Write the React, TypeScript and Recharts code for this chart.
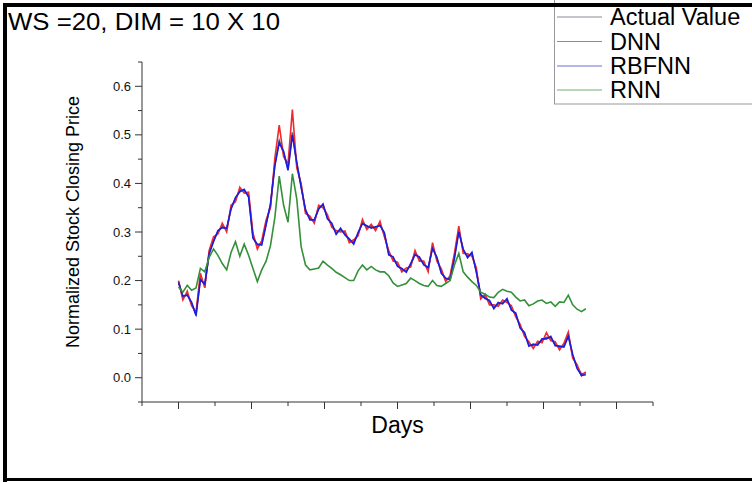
import React from 'react';
import { LineChart, Line, XAxis, YAxis } from 'recharts';

const days = [
  0, 6, 12, 18, 24, 30, 36, 42, 48, 54,
  60, 66, 72, 78, 84, 90, 96, 102, 108, 114,
  120, 126, 132, 138, 144, 150, 156, 162, 168, 174,
  180, 186, 192, 198, 204, 210, 216, 222, 228, 234,
  240, 246, 252, 258, 264, 270, 276, 282, 288, 294,
  300, 306, 312, 318, 324, 330, 336, 342, 348, 354,
  360, 366, 372, 378, 384, 390, 396, 402, 408, 414,
  420, 426, 432, 438, 444, 450, 456, 462, 468, 474,
  480, 486, 492, 498, 504, 510, 516, 522, 528, 534,
  540, 546, 552, 558,
];

const actualValue = [
  0.198, 0.165, 0.172, 0.152, 0.130, 0.205, 0.190, 0.258, 0.283, 0.300,
  0.312, 0.305, 0.350, 0.368, 0.386, 0.385, 0.375, 0.290, 0.272, 0.276,
  0.318, 0.355, 0.440, 0.488, 0.462, 0.430, 0.505, 0.440, 0.395, 0.343,
  0.328, 0.322, 0.350, 0.355, 0.330, 0.315, 0.298, 0.305, 0.297, 0.283,
  0.278, 0.296, 0.320, 0.310, 0.311, 0.308, 0.316, 0.296, 0.256, 0.246,
  0.232, 0.222, 0.220, 0.232, 0.256, 0.246, 0.235, 0.224, 0.270, 0.245,
  0.218, 0.202, 0.205, 0.250, 0.305, 0.262, 0.250, 0.255, 0.220, 0.168,
  0.166, 0.156, 0.145, 0.152, 0.155, 0.160, 0.142, 0.130, 0.105, 0.090,
  0.068, 0.066, 0.070, 0.077, 0.083, 0.082, 0.069, 0.062, 0.066, 0.088,
  0.045, 0.022, 0.008, 0.009,
];

const dnn = [
  0.200, 0.160, 0.178, 0.148, 0.135, 0.215, 0.185, 0.262, 0.290, 0.296,
  0.318, 0.300, 0.355, 0.362, 0.392, 0.380, 0.382, 0.298, 0.265, 0.282,
  0.325, 0.350, 0.452, 0.520, 0.455, 0.440, 0.552, 0.432, 0.400, 0.338,
  0.333, 0.318, 0.355, 0.350, 0.336, 0.310, 0.303, 0.300, 0.302, 0.278,
  0.284, 0.292, 0.326, 0.305, 0.316, 0.303, 0.322, 0.290, 0.262, 0.240,
  0.238, 0.218, 0.226, 0.228, 0.262, 0.240, 0.240, 0.218, 0.278, 0.240,
  0.224, 0.198, 0.210, 0.256, 0.312, 0.256, 0.255, 0.250, 0.226, 0.162,
  0.172, 0.150, 0.150, 0.147, 0.160, 0.155, 0.148, 0.125, 0.110, 0.085,
  0.074, 0.060, 0.075, 0.072, 0.093, 0.076, 0.074, 0.057, 0.071, 0.094,
  0.040, 0.027, 0.004, 0.012,
];

const rbfnn = [
  0.196, 0.168, 0.170, 0.155, 0.128, 0.202, 0.193, 0.255, 0.280, 0.303,
  0.309, 0.308, 0.347, 0.371, 0.383, 0.388, 0.372, 0.287, 0.275, 0.273,
  0.315, 0.358, 0.436, 0.484, 0.466, 0.427, 0.500, 0.444, 0.392, 0.346,
  0.325, 0.325, 0.347, 0.358, 0.327, 0.318, 0.295, 0.308, 0.294, 0.286,
  0.275, 0.299, 0.317, 0.313, 0.308, 0.311, 0.313, 0.299, 0.253, 0.249,
  0.229, 0.225, 0.217, 0.235, 0.253, 0.249, 0.232, 0.227, 0.266, 0.248,
  0.215, 0.205, 0.202, 0.246, 0.300, 0.265, 0.247, 0.258, 0.217, 0.171,
  0.163, 0.159, 0.142, 0.155, 0.152, 0.163, 0.139, 0.133, 0.102, 0.093,
  0.065, 0.069, 0.067, 0.080, 0.080, 0.085, 0.066, 0.065, 0.063, 0.085,
  0.048, 0.019, 0.005, 0.006,
];

const rnn = [
  0.187, 0.176, 0.190, 0.180, 0.185, 0.225, 0.218, 0.248, 0.265, 0.252,
  0.235, 0.222, 0.258, 0.280, 0.250, 0.275, 0.252, 0.225, 0.198, 0.222,
  0.240, 0.272, 0.330, 0.415, 0.355, 0.320, 0.420, 0.368, 0.270, 0.232,
  0.222, 0.224, 0.226, 0.240, 0.232, 0.225, 0.217, 0.212, 0.206, 0.200,
  0.200, 0.220, 0.232, 0.222, 0.229, 0.222, 0.218, 0.218, 0.210, 0.195,
  0.188, 0.191, 0.194, 0.205, 0.200, 0.194, 0.190, 0.188, 0.200, 0.190,
  0.188, 0.194, 0.200, 0.232, 0.256, 0.218, 0.207, 0.198, 0.190, 0.176,
  0.172, 0.166, 0.165, 0.176, 0.182, 0.178, 0.176, 0.166, 0.158, 0.160,
  0.148, 0.152, 0.158, 0.160, 0.153, 0.156, 0.147, 0.156, 0.155, 0.170,
  0.150, 0.141, 0.136, 0.142,
];

const xTicks = [-50, 0, 50, 100, 150, 200, 250, 300, 350, 400, 450, 500, 550, 600, 650];
const yTicks = [-0.05, 0, 0.05, 0.1, 0.15, 0.2, 0.25, 0.3, 0.35, 0.4, 0.45, 0.5, 0.55, 0.6, 0.65];

const seriesKeys = ['actual', 'dnn', 'rbfnn', 'rnn'];
const seriesNames = ['Actual Value', 'DNN', 'RBFNN', 'RNN'];
const seriesColors = ['#5c5c70', '#ee2a2a', '#1c1ce0', '#35903a'];
const legendColors = ['#8a8a96', '#f06070', '#7070d0', '#70b078'];

const data = days.map((day, i) => ({
  day,
  actual: actualValue[i],
  dnn: dnn[i],
  rbfnn: rbfnn[i],
  rnn: rnn[i],
}));

const FONT = '"Liberation Sans", Arial, Helvetica, sans-serif';
const AXIS = '#333';

const XTick = (props: any) => {
  const { x, y, payload } = props;
  const v = payload.value;
  const major = v >= 0 && v <= 600 && v % 100 === 0;
  return <line x1={x} x2={x} y1={y} y2={y + (major ? 7 : 4)} stroke={AXIS} />;
};

const YTick = (props: any) => {
  const { x, y, payload } = props;
  const k = Math.round(payload.value * 100);
  const major = k >= 0 && k <= 60 && k % 10 === 0;
  return (
    <g>
      <line x1={x} x2={x - (major ? 7 : 4)} y1={y} y2={y} stroke={AXIS} />
      {major && (
        <text x={x - 11} y={y + 4.5} textAnchor="end" fontSize={13} fontFamily={FONT} fill="#111">
          {(k / 100).toFixed(1)}
        </text>
      )}
    </g>
  );
};

// legend rows (centre of each entry)
const legendY = [17, 41.5, 66, 90];

export default function App() {
  return (
    <div style={{ position: 'relative', width: 752, height: 482, background: '#fff', overflow: 'hidden' }}>
      <style>{'body{margin:0}'}</style>
      <LineChart width={752} height={482} data={data} margin={{ top: 62, right: 99, bottom: 0, left: 0 }}>
        <XAxis
          type="number"
          dataKey="day"
          domain={[-50, 650]}
          ticks={xTicks}
          interval={0}
          height={80}
          tickSize={0}
          tickMargin={0}
          tickLine={false}
          tick={<XTick />}
          axisLine={{ stroke: AXIS }}
          allowDataOverflow
        />
        <YAxis
          type="number"
          domain={[-0.05, 0.65]}
          ticks={yTicks}
          interval={0}
          width={142}
          tickSize={0}
          tickMargin={0}
          tickLine={false}
          tick={<YTick />}
          axisLine={{ stroke: AXIS }}
          allowDataOverflow
        />
        {seriesKeys.map((k, i) => (
          <Line
            key={k}
            type="linear"
            dataKey={k}
            name={seriesNames[i]}
            stroke={seriesColors[i]}
            strokeWidth={1.6}
            dot={false}
            isAnimationActive={false}
          />
        ))}
      </LineChart>
      <svg width={752} height={482} style={{ position: 'absolute', left: 0, top: 0, pointerEvents: 'none' }}>
        <text x={8} y={29.5} fontSize={23} fontFamily={FONT} fill="#000" textLength={272} lengthAdjust="spacingAndGlyphs">
          WS =20, DIM = 10 X 10
        </text>
        <text
          x={79}
          y={222}
          transform="rotate(-90 79 222)"
          textAnchor="middle"
          fontSize={18}
          fontFamily={FONT}
          fill="#000"
        >
          Normalized Stock Closing Price
        </text>
        <text x={397.5} y={433} textAnchor="middle" fontSize={23} fontFamily={FONT} fill="#000">
          Days
        </text>
        <rect x={554.5} y={-2} width={220} height={106} fill="#fff" stroke="#999" />
        {seriesNames.map((n, i) => (
          <g key={n}>
            <line x1={557} x2={602} y1={legendY[i]} y2={legendY[i]} stroke={legendColors[i]} strokeWidth={1.2} />
            <text x={610} y={legendY[i] + 8} fontSize={23.5} fontFamily={FONT} fill="#000">
              {n}
            </text>
          </g>
        ))}
        <rect x={3} y={3} width={760} height={4} fill="#000" />
        <rect x={3} y={3} width={4} height={479} fill="#000" />
        <rect x={3} y={478} width={760} height={3} fill="#000" />
      </svg>
    </div>
  );
}
